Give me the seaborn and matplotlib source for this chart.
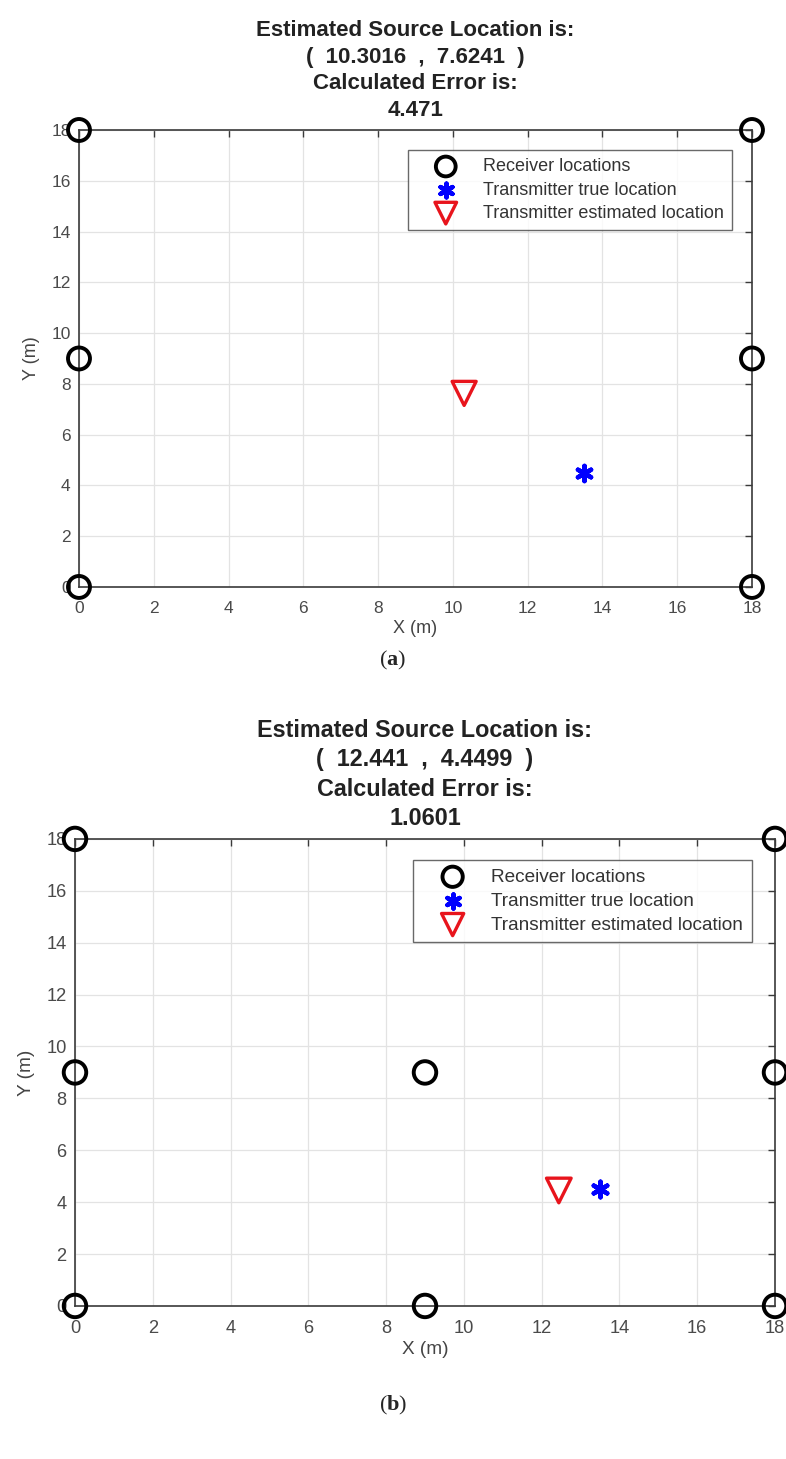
import numpy as np
import pandas as pd
import matplotlib
matplotlib.use("Agg")
import matplotlib.pyplot as plt
import seaborn as sns

# Receiver layouts (m)
rx_a_x = [0, 0, 0, 18, 18, 18]
rx_a_y = [0, 9, 18, 0, 9, 18]
rx_b_x = [0, 0, 0, 9, 9, 18, 18, 18]
rx_b_y = [0, 9, 18, 0, 9, 0, 9, 18]

# Transmitter true location (m)
tx_true = (13.5, 4.5)

# Estimated source locations and errors
est_a = (10.3016, 7.6241)
err_a = "4.471"
est_a_txt = ("10.3016", "7.6241")
est_b = (12.441, 4.4499)
err_b = "1.0601"
est_b_txt = ("12.441", "4.4499")

ticks = [0, 2, 4, 6, 8, 10, 12, 14, 16, 18]

sns.set_style("white")
plt.rcParams["font.family"] = ["Liberation Sans", "DejaVu Sans"]
plt.rcParams["mathtext.fontset"] = "custom"
plt.rcParams["mathtext.rm"] = "Liberation Serif"
plt.rcParams["mathtext.bf"] = "Liberation Serif:bold"

fig = plt.figure(figsize=(7.86, 14.59), dpi=100)
ax_a = fig.add_axes([0.1005, 0.5977, 0.8562, 0.3132])
ax_b = fig.add_axes([0.0954, 0.1049, 0.8906, 0.3201])

asterisk = (6, 2, 0)


def draw_panel(ax, rx_x, rx_y, est, est_txt, err, legend_anchor, k):
    df_rx = pd.DataFrame({"x": rx_x, "y": rx_y})
    df_tx = pd.DataFrame({"x": [tx_true[0]], "y": [tx_true[1]]})
    df_est = pd.DataFrame({"x": [est[0]], "y": [est[1]]})

    sns.scatterplot(data=df_rx, x="x", y="y", ax=ax, marker="o", s=250 * k,
                    facecolor="none", edgecolor="black", linewidth=2.8,
                    label="Receiver locations", clip_on=False, zorder=5)
    sns.scatterplot(data=df_tx, x="x", y="y", ax=ax, marker=asterisk, s=120 * k,
                    color="#0000ff", edgecolor="#0000ff", linewidth=3.2,
                    label="Transmitter true location", clip_on=False, zorder=5)
    sns.scatterplot(data=df_est, x="x", y="y", ax=ax, marker="v", s=300 * k,
                    facecolor="none", edgecolor="#e8141c", linewidth=2.4,
                    label="Transmitter estimated location", clip_on=False, zorder=5)

    ax.set_xlim(0, 18)
    ax.set_ylim(0, 18)
    ax.set_xticks(ticks)
    ax.set_yticks(ticks)
    ax.grid(True, color="#e3e3e3", linewidth=0.9)
    ax.set_axisbelow(True)
    ax.tick_params(direction="in", length=5, width=1, color="#3a3a3a",
                   labelsize=12.5 * k, labelcolor="#4a4a4a", top=True, right=True)
    ax.tick_params(axis="x", pad=10)
    ax.tick_params(axis="y", pad=6)
    for sp in ax.spines.values():
        sp.set_color("#3a3a3a")
        sp.set_linewidth(1.2)
    ax.set_xlabel("X (m)", fontsize=13 * k, color="#444444", labelpad=3)
    ax.set_ylabel("Y (m)", fontsize=13 * k, color="#444444", labelpad=8)

    title = ("Estimated Source Location is:\n"
             f"(  {est_txt[0]}  ,  {est_txt[1]}  )\n"
             "Calculated Error is:\n"
             f"{err}")
    ax.set_title(title, fontsize=16 * k, fontweight="bold", color="#222222",
                 linespacing=1.36, pad=10)

    leg = ax.legend(loc="upper right", bbox_to_anchor=legend_anchor,
                    frameon=True, fancybox=False, fontsize=13 * k,
                    handlelength=3.3, handletextpad=0.4, borderpad=0.45,
                    labelspacing=0.35, borderaxespad=0, markerscale=0.9)
    leg.get_frame().set_edgecolor("#444444")
    leg.get_frame().set_linewidth(1.0)
    for t in leg.get_texts():
        t.set_color("#333333")


draw_panel(ax_a, rx_a_x, rx_a_y, est_a, est_a_txt, err_a, (0.970, 0.956), 1.0)
draw_panel(ax_b, rx_b_x, rx_b_y, est_b, est_b_txt, err_b, (0.967, 0.955), 1.05)

fig.text(0.5, 1 - 660 / 1459, r"($\mathbf{a}$)", ha="center", va="center",
         fontsize=16, family="Liberation Serif")
fig.text(0.5, 1 - 1405 / 1459, r"($\mathbf{b}$)", ha="center", va="center",
         fontsize=16, family="Liberation Serif")

fig.savefig("out.png", dpi=100, facecolor="white")
